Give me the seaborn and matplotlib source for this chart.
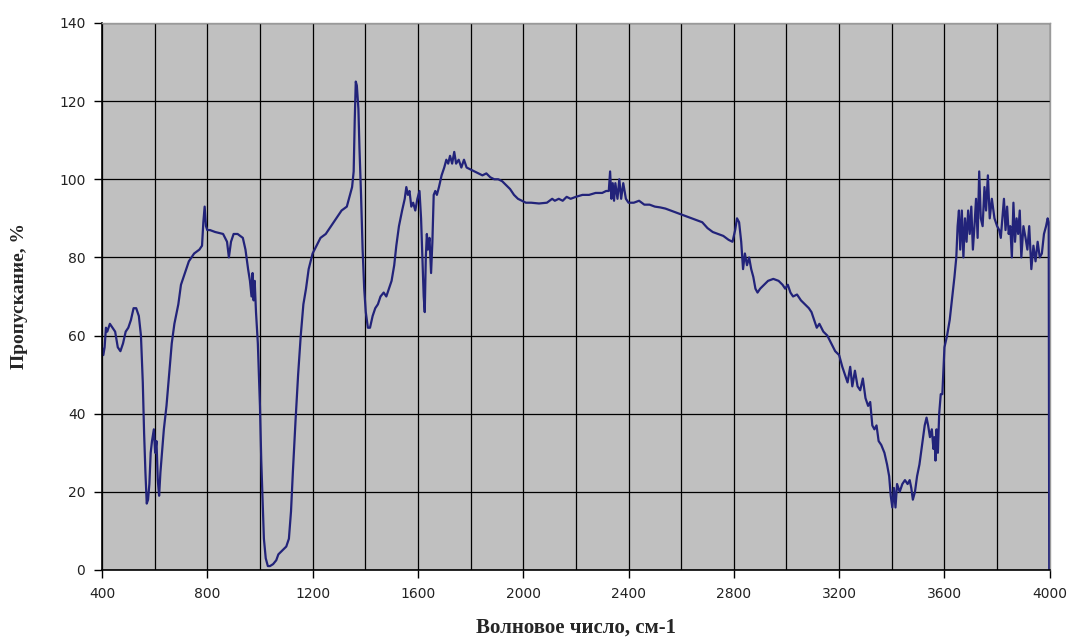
import numpy as np
import pandas as pd
import matplotlib
matplotlib.use("Agg")
import matplotlib.pyplot as plt
import seaborn as sns
from matplotlib.ticker import MultipleLocator

wavenumber = [
    400, 405, 410, 415, 420, 430, 440, 450, 460, 470,
    480, 490, 500, 510, 520, 530, 540, 548, 555, 560,
    565, 570, 575, 580, 585, 590, 597, 602, 607, 612,
    617, 622, 628, 635, 645, 655, 665, 675, 690, 700,
    715, 730, 750, 770, 780, 785, 790, 795, 800, 810,
    830, 860, 875, 882, 890, 900, 915, 935, 945, 955,
    962, 968, 972, 976, 980, 985, 992, 1000, 1005, 1010,
    1015, 1022, 1030, 1038, 1050, 1062, 1070, 1085, 1100, 1110,
    1118, 1125, 1135, 1145, 1155, 1165, 1175, 1185, 1200, 1215,
    1230, 1250, 1270, 1290, 1310, 1330, 1342, 1350, 1356, 1360,
    1364, 1368, 1374, 1378, 1384, 1390, 1396, 1402, 1410, 1418,
    1428, 1438, 1448, 1458, 1470, 1480, 1490, 1500, 1510, 1518,
    1528, 1540, 1550, 1556, 1562, 1568, 1575, 1582, 1590, 1598,
    1606, 1612, 1618, 1622, 1626, 1630, 1634, 1638, 1644, 1650,
    1655, 1660, 1666, 1672, 1680, 1690, 1700, 1708, 1715, 1722,
    1730, 1738, 1745, 1755, 1765, 1775, 1785, 1800, 1815, 1830,
    1845, 1860, 1875, 1890, 1905, 1920, 1935, 1950, 1965, 1980,
    1995, 2010, 2030, 2060, 2090, 2110, 2120, 2135, 2150, 2165,
    2180, 2200, 2225, 2250, 2275, 2300, 2315, 2325, 2330, 2335,
    2340, 2345, 2350, 2358, 2365, 2372, 2380, 2390, 2400, 2420,
    2440, 2460, 2480, 2500, 2520, 2540, 2560, 2580, 2600, 2620,
    2640, 2660, 2680, 2700, 2720, 2740, 2760, 2780, 2795, 2805,
    2812, 2820, 2828, 2835, 2842, 2850, 2858, 2866, 2874, 2882,
    2890, 2900, 2915, 2930, 2950, 2970, 2985, 2995, 3005, 3015,
    3025, 3040, 3055, 3070, 3085, 3095, 3105, 3115, 3125, 3140,
    3155, 3170, 3185, 3200, 3212, 3222, 3232, 3242, 3250, 3260,
    3270, 3280, 3290, 3300, 3310, 3318, 3326, 3334, 3342, 3350,
    3360, 3372, 3382, 3390, 3396, 3402, 3408, 3414, 3420, 3430,
    3440, 3450, 3460, 3468, 3474, 3480, 3488, 3496, 3505, 3515,
    3525, 3532, 3538, 3545, 3552, 3558, 3562, 3566, 3570, 3575,
    3580, 3586, 3592, 3600, 3610, 3620, 3630, 3638, 3645, 3650,
    3655, 3660, 3666, 3672, 3678, 3684, 3690, 3696, 3702, 3708,
    3714, 3720, 3726, 3732, 3738, 3745, 3752, 3758, 3765, 3772,
    3780, 3790, 3800, 3808, 3814, 3820, 3826, 3832, 3838, 3844,
    3850, 3856, 3862, 3868, 3874, 3880, 3886, 3892, 3900, 3908,
    3915, 3922, 3930, 3938, 3946, 3954, 3962, 3970, 3978, 3986,
    3992, 3996, 3998,
]
transmission = [
    57, 55, 57, 62, 61, 63, 62, 61, 57, 56,
    58, 61, 62, 64, 67, 67, 65, 60, 48, 35,
    25, 17, 18, 22, 30, 33, 36, 30, 33, 23,
    19, 25, 30, 36, 42, 50, 58, 63, 68, 73,
    76, 79, 81, 82, 83, 89, 93, 88, 87, 87,
    86.5, 86, 84, 80, 84, 86, 86, 85, 82, 77,
    74, 70, 76, 69, 74, 66, 58, 42, 28, 18,
    8, 3, 1, 1, 1.5, 2.5, 4, 5, 6, 8,
    15, 25, 38, 50, 60, 68, 72, 77, 81, 83,
    85, 86, 88, 90, 92, 93, 96, 98, 102, 115,
    125, 124, 118, 108, 96, 82, 72, 66, 62, 62,
    65, 67, 68, 70, 71, 70, 72, 74, 78, 83,
    88, 92, 95, 98, 96, 97, 93, 94, 92, 95,
    97, 90, 78, 70, 66, 80, 86, 82, 85, 76,
    84, 96, 97, 96, 98, 101, 103, 105, 104, 106,
    104, 107, 104, 105, 103, 105, 103, 102.5, 102, 101.5,
    101, 101.5, 100.5, 100, 100, 99.5, 98.5, 97.5, 96, 95,
    94.5, 94, 94, 93.8, 94, 95, 94.5, 95, 94.5, 95.5,
    95, 95.5, 96, 96, 96.5, 96.5, 97, 97, 102, 95,
    99, 94.5, 99, 95, 100, 95, 99, 95, 94, 94,
    94.5, 93.5, 93.5, 93, 92.8, 92.5, 92, 91.5, 91, 90.5,
    90, 89.5, 89, 87.5, 86.5, 86, 85.5, 84.5, 84, 87,
    90, 89, 84, 77, 81, 78, 80, 77, 75, 72,
    71, 72, 73, 74, 74.5, 74, 73, 72, 73, 71,
    70, 70.5, 69, 68, 67, 66, 64, 62, 63, 61,
    60, 58, 56, 55, 52, 50, 48, 52, 47, 51,
    47, 46, 49, 44, 42, 43, 37, 36, 37, 33,
    32, 30, 27, 24, 19, 16, 21, 16, 22, 20,
    22, 23, 22, 23, 21, 18, 20, 24, 27, 32,
    37, 39, 37, 34, 36, 31, 34, 28, 36, 30,
    40, 45, 45, 57, 60, 64, 70, 75, 80, 88,
    92, 82, 92, 80, 90, 84, 92, 86, 93, 82,
    88, 95, 85, 102, 90, 88, 98, 92, 101, 90,
    95, 90, 88, 87, 85, 90, 95, 87, 93, 86,
    88, 80, 94, 84, 90, 86, 92, 80, 88, 85,
    82, 88, 77, 83, 79, 84, 80, 81, 86, 88,
    90, 89, 0,
]

xticks = [400, 800, 1200, 1600, 2000, 2400, 2800, 3200, 3600, 4000]
yticks = [0, 20, 40, 60, 80, 100, 120, 140]

df = pd.DataFrame({"wavenumber": wavenumber, "transmission": transmission})

# ------------------- Figure -------------------
sns.set_theme(style="white")
plt.rcParams["font.family"] = ["DejaVu Sans"]

fig = plt.figure(figsize=(10.69, 6.38), dpi=100)
ax = fig.add_axes([0.0954, 0.1066, 0.8866, 0.8574])
ax.set_facecolor("#c0c0c0")

sns.lineplot(data=df, x="wavenumber", y="transmission", ax=ax,
             color="#22237a", linewidth=1.6, sort=False, estimator=None)

ax.set_xlim(400, 4000)
ax.set_ylim(0, 140)
ax.set_xticks(xticks)
ax.set_xticklabels([str(t) for t in xticks])
ax.set_yticks(yticks)
ax.set_yticklabels([str(t) for t in yticks])
ax.xaxis.set_minor_locator(MultipleLocator(200))

# grille noire comme dans l'original
ax.grid(True, which="both", axis="x", color="black", linewidth=0.9)
ax.grid(True, which="major", axis="y", color="black", linewidth=0.9)
ax.set_axisbelow(True)

ax.tick_params(axis="x", which="major", length=6, width=1, color="black",
               labelsize=10, pad=6, labelcolor="#222222")
ax.tick_params(axis="x", which="minor", length=0)
ax.tick_params(axis="y", which="major", length=6, width=1, color="black",
               labelsize=10, pad=6, labelcolor="#222222")
ax.tick_params(bottom=True, left=True)

for side in ["left", "bottom"]:
    ax.spines[side].set_color("black")
    ax.spines[side].set_linewidth(1.2)
for side in ["top", "right"]:
    ax.spines[side].set_color("#9a9a9a")
    ax.spines[side].set_linewidth(1.0)

ax.set_xlabel("Волновое число, см-1", fontsize=15, fontweight="bold",
              family="Liberation Serif", labelpad=12)
ax.set_ylabel("Пропускание, %", fontsize=14, fontweight="bold",
              family="Liberation Serif", labelpad=22)

fig.savefig("out.png", dpi=100)
